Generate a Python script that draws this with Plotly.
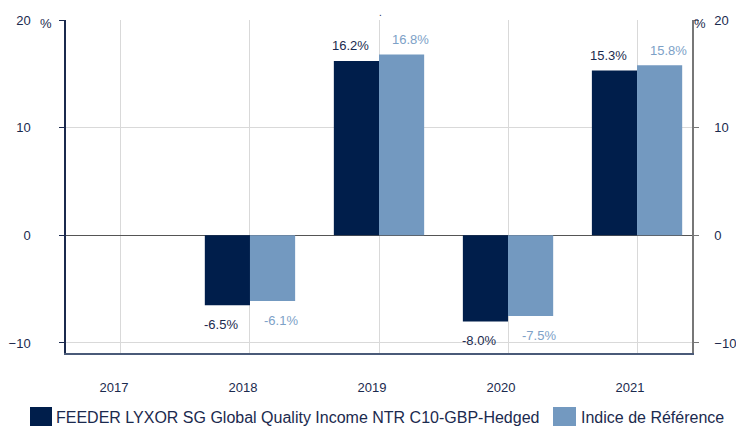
import plotly.graph_objects as go

years = [2017, 2018, 2019, 2020, 2021]
fund_name = "FEEDER LYXOR SG Global Quality Income NTR C10-GBP-Hedged"
index_name = "Indice de Référence"
fund_values = [None, -6.5, 16.2, -8.0, 15.3]
index_values = [None, -6.1, 16.8, -7.5, 15.8]
y_ticks = [-10, 0, 10, 20]

DARK = "#001E4B"
LIGHT = "#7399C0"
LIGHT_TXT = "#7DA1C7"
TXT = "#1B2A4E"
FONT = "Liberation Sans, Arial, sans-serif"

W, H = 736, 426
PL, PR, PT, PB = 66, 692, 20, 353          # plot-area edges in pixels
ML, MR, MT, MB = PL, W - PR, PT, H - PB
PW, PH = PR - PL, PB - PT


def px(xp):
    return (xp - PL) / PW


def py(yp):
    return (PB - yp) / PH


fig = go.Figure()
fig.add_trace(go.Bar(x=years, y=fund_values, name=fund_name, showlegend=False,
                     marker=dict(color=DARK, line=dict(width=0))))
fig.add_trace(go.Bar(x=years, y=index_values, name=index_name, showlegend=False,
                     marker=dict(color=LIGHT, line=dict(width=0))))
fig.add_trace(go.Scatter(x=[], y=[], yaxis="y2", showlegend=False, hoverinfo="skip"))

# value labels
for vals, shift, col in [(fund_values, -29, TXT), (index_values, 31, LIGHT_TXT)]:
    for x, v in zip(years, vals):
        if v is None:
            continue
        fig.add_annotation(
            x=x, y=v, xref="x", yref="y", text=f"{v:.1f}%", showarrow=False,
            xshift=shift, yshift=15 if v >= 0 else -19,
            font=dict(size=13, color=col, family=FONT), xanchor="center", yanchor="middle")

# % markers and the stray top dot
fig.add_annotation(x=px(54), y=py(23), xref="paper", yref="paper", text="%", showarrow=False,
                   xanchor="right", yanchor="middle", font=dict(size=13, color=TXT, family=FONT))
fig.add_annotation(x=px(692), y=py(23), xref="paper", yref="paper", text="%", showarrow=False,
                   xanchor="left", yanchor="middle", font=dict(size=13, color=TXT, family=FONT))
fig.add_annotation(x=px(380), y=py(12), xref="paper", yref="paper", text=".", showarrow=False,
                   xanchor="center", yanchor="middle", font=dict(size=10, color=TXT, family=FONT))

# manual legend (large square swatches as in the reference)
for (x0, x1, tx, name, col) in [(30, 52, 53.5, fund_name, DARK), (553, 576, 579, index_name, LIGHT)]:
    fig.add_shape(type="rect", xref="paper", yref="paper", x0=px(x0), x1=px(x1),
                  y0=py(426), y1=py(407), fillcolor=col, line=dict(width=0), layer="above")
    fig.add_annotation(x=px(tx), y=py(417.5), xref="paper", yref="paper", text=name, showarrow=False,
                       xanchor="left", yanchor="middle", font=dict(size=16, color=TXT, family=FONT))

fig.update_layout(
    width=W, height=H,
    margin=dict(l=ML, r=MR, t=MT, b=MB, autoexpand=False),
    paper_bgcolor="white", plot_bgcolor="white",
    barmode="group", bargap=0.3, bargroupgap=0,
    font=dict(family=FONT, size=13, color=TXT),
    showlegend=False,
    xaxis=dict(range=[2016.574, 2021.426], tickvals=years, ticktext=[str(y) for y in years],
               automargin=False,
               showgrid=True, gridcolor="#D9D9D9", gridwidth=1, zeroline=False,
               showline=True, linecolor="#4A5A78", linewidth=1.5, ticks="",
               ticklabelshift=-7, ticklabelstandoff=22, tickfont=dict(size=13, color=TXT)),
    yaxis=dict(range=[-10.93, 20], tickvals=y_ticks, showgrid=True, gridcolor="#D9D9D9",
               automargin=False,
               zeroline=True, zerolinecolor="#555555", zerolinewidth=1.2,
               showline=True, linecolor="#1B2A4E", linewidth=1.5,
               ticks="outside", ticklen=5, tickcolor="#1B2A4E",
               ticklabelstandoff=26, tickfont=dict(size=13, color=TXT)),
    yaxis2=dict(range=[-10.93, 20], tickvals=y_ticks, overlaying="y", side="right",
                automargin=False,
                showgrid=False, zeroline=False, showline=True, linecolor="#777777", linewidth=1.5,
                ticks="outside", ticklen=5, tickcolor="#777777",
                ticklabelstandoff=13, tickfont=dict(size=13, color=TXT)),
)

# remove the browser's default 8px body margin so the 736x426 figure fills the window exactly
fig.write_html(
    "out.html",
    config={"displayModeBar": False},
    post_script="document.body.style.margin='0';document.body.style.overflow='hidden';",
)
